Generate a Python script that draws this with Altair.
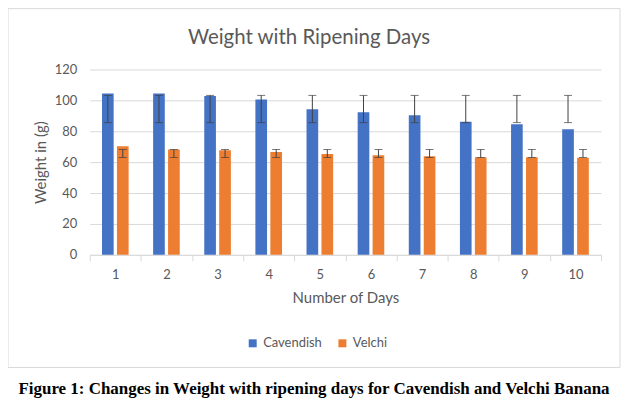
import altair as alt
import pandas as pd

days = [1, 2, 3, 4, 5, 6, 7, 8, 9, 10]
cavendish = [104.5, 104.5, 102.8, 100.6, 94.2, 92.3, 90.3, 86.2, 84.5, 81.3]
velchi = [70.3, 68.2, 67.7, 66.5, 65.2, 64.5, 63.9, 63.2, 63.2, 62.8]
cav_low = [85.6, 85.6, 85.6, 85.6, 85.6, 85.6, 85.6, 85.6, 85.6, 85.6]
cav_high = [103.2, 103.2, 103.2, 103.2, 103.2, 103.2, 103.2, 103.2, 103.2, 103.2]
vel_low = [63.0, 63.0, 63.0, 63.0, 63.0, 63.0, 63.0, 63.0, 63.0, 63.0]
vel_high = [68.2, 68.2, 68.2, 68.2, 68.2, 68.2, 68.2, 68.2, 68.2, 68.2]
varieties = ["Cavendish", "Velchi"]
colors = ["#4472C4", "#ED7D31"]
y_ticks = [0, 20, 40, 60, 80, 100, 120]
chart_title = "Weight with Ripening Days"
caption_text = "Figure 1: Changes in Weight with ripening days for Cavendish and Velchi Banana"

rows = []
for i, d in enumerate(days):
    rows.append({"Day": d, "Variety": "Cavendish", "Weight": cavendish[i], "Low": cav_low[i], "High": cav_high[i]})
    rows.append({"Day": d, "Variety": "Velchi", "Weight": velchi[i], "Low": vel_low[i], "High": vel_high[i]})
df = pd.DataFrame(rows)

FONT = "Lato"
GREY = "#595959"
GRID = "#d9d9d9"

x = alt.X(
    "Day:O",
    scale=alt.Scale(paddingInner=0, paddingOuter=0),
    axis=alt.Axis(
        title="Number of Days", labelAngle=0, tickBand="extent", ticks=True,
        tickColor=GRID, tickSize=6, domainColor=GRID, grid=False,
        labelColor=GREY, labelFont=FONT, labelFontSize=13, labelPadding=8,
        titleColor=GREY, titleFont=FONT, titleFontSize=15, titleFontWeight="normal",
        titlePadding=9,
    ),
)
xoff = alt.XOffset("Variety:N", scale=alt.Scale(domain=varieties, paddingInner=0.22, paddingOuter=0.82))
yscale = alt.Scale(domain=[0, 120], nice=False)
yaxis = alt.Axis(
    title="Weight in (g)", values=y_ticks, ticks=False, tickSize=0, domain=False,
    grid=True, gridColor=GRID, labelColor=GREY, labelFont=FONT, labelFontSize=13,
    labelPadding=13, titleColor=GREY, titleFont=FONT, titleFontSize=15,
    titleFontWeight="normal", titlePadding=6,
)

def yenc(field):
    return alt.Y(field, scale=yscale, axis=yaxis, title="Weight in (g)")

base = alt.Chart(df)

bars = base.mark_bar().encode(
    x=x, xOffset=xoff, y=yenc("Weight:Q"),
    color=alt.Color(
        "Variety:N",
        scale=alt.Scale(domain=varieties, range=colors),
        legend=alt.Legend(
            title=None, orient="none", direction="horizontal", legendX=157, legendY=268,
            symbolType="square", symbolSize=64, symbolStrokeWidth=0, labelFont=FONT,
            labelFontSize=13, labelColor=GREY, columnPadding=14, labelOffset=4,
        ),
    ),
)

err = base.mark_rule(color="#404040", strokeWidth=1).encode(
    x=x, xOffset=xoff, y=yenc("Low:Q"), y2="High:Q"
)
cap_lo = base.mark_tick(color="#404040", thickness=1, size=8).encode(
    x=x, xOffset=xoff, y=yenc("Low:Q"))
cap_hi = base.mark_tick(color="#404040", thickness=1, size=8).encode(
    x=x, xOffset=xoff, y=yenc("High:Q"))

one = pd.DataFrame({"a": [0]})
border = alt.Chart(one).mark_rect(fill=None, stroke=GRID, strokeWidth=1).encode(
    x=alt.value(-82), x2=alt.value(532), y=alt.value(-61), y2=alt.value(299)
)
title_mark = alt.Chart(one).mark_text(
    text=chart_title, font=FONT, fontSize=20.5, color=GREY, align="center", baseline="middle",
).encode(x=alt.value(220), y=alt.value(-32))
caption = alt.Chart(one).mark_text(
    text=caption_text, font="Liberation Serif", fontSize=17, fontWeight="bold", color="#000000",
    align="center", baseline="middle",
).encode(x=alt.value(225), y=alt.value(321))

chart = alt.layer(bars, border, err, cap_lo, cap_hi, title_mark, caption).properties(
    width=513, height=186,
    autosize=alt.AutoSizeParams(type="none"),
    padding={"left": 82, "top": 61, "right": 20, "bottom": 155},
).configure_view(stroke=None)

chart.save("out.html", embed_options={"renderer": "svg", "actions": False})
